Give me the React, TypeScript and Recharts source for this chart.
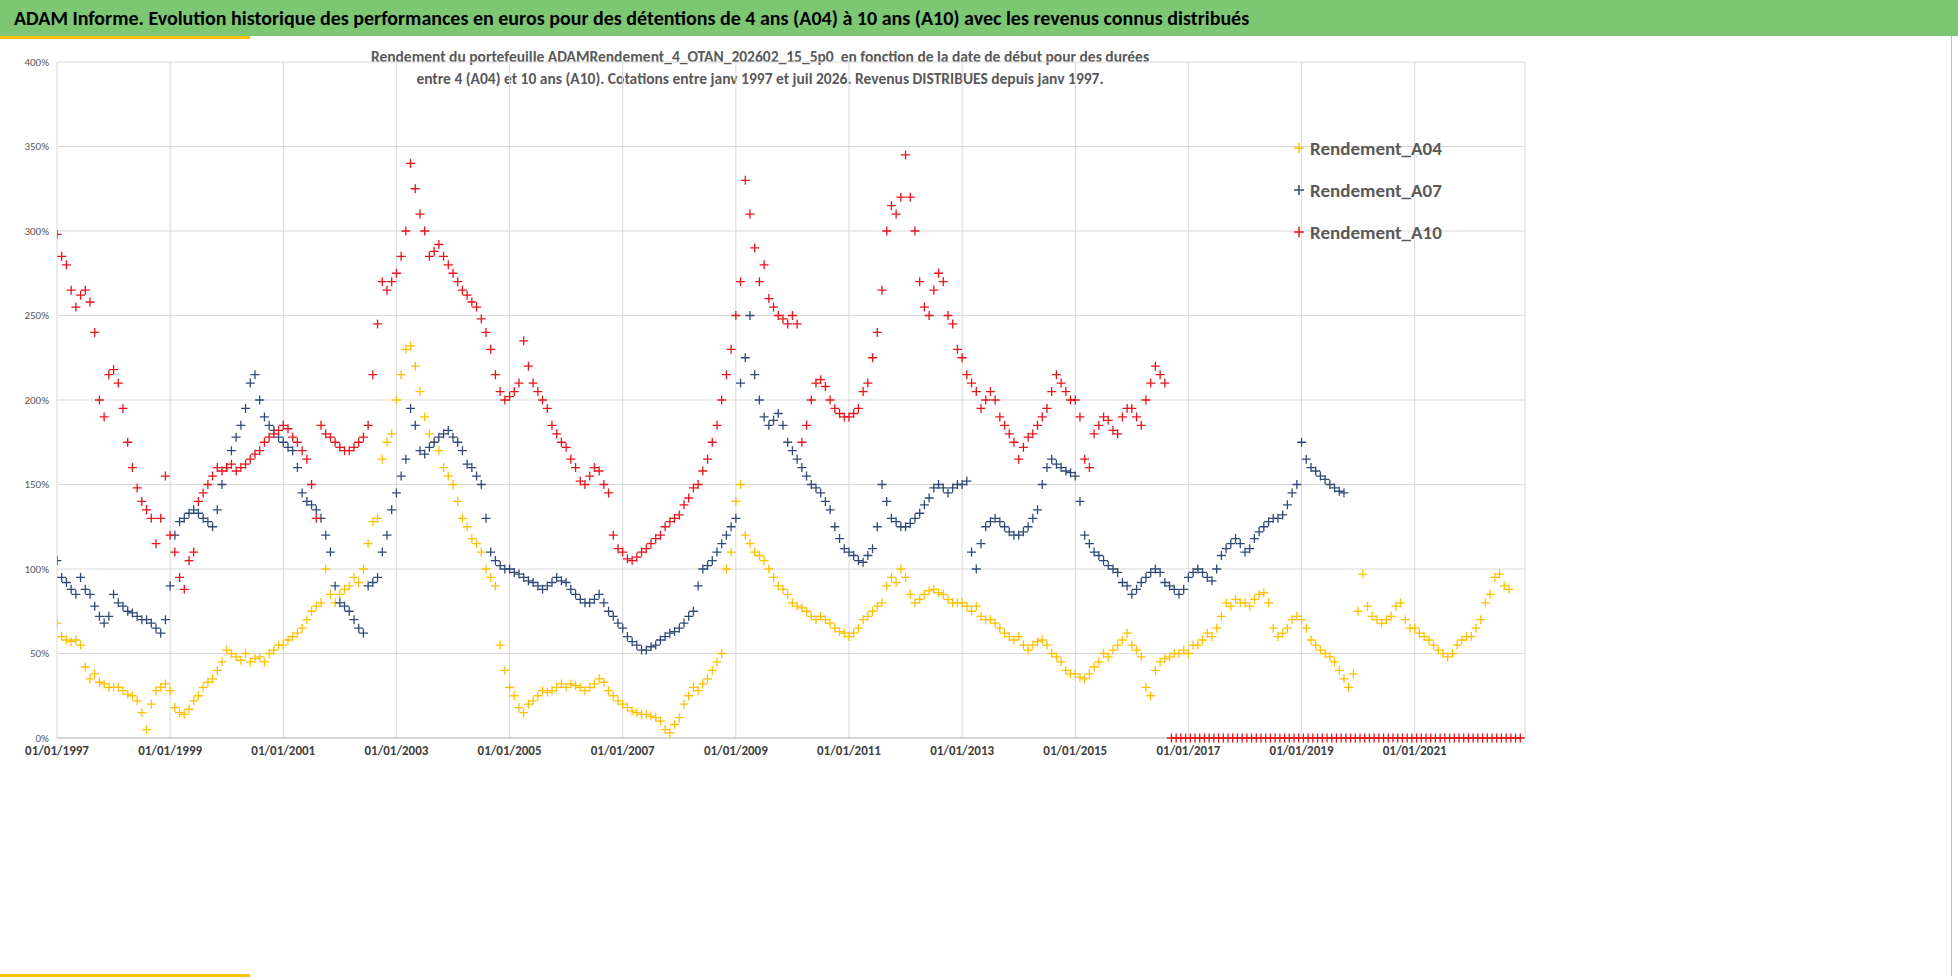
import React from "react";
import { ScatterChart, Scatter, XAxis, YAxis, CartesianGrid } from "recharts";

const xTicks = [1997, 1999, 2001, 2003, 2005, 2007, 2009, 2011, 2013, 2015, 2017, 2019, 2021];
const yTicks = [0, 50, 100, 150, 200, 250, 300, 350, 400];

const a04Start = 1997;
const a04Values = [
  68,60,58,57,58,55,42,35,38,33,32,30,
  30,30,28,26,25,22,15,5,20,28,30,32,
  28,18,15,14,17,22,25,30,33,35,40,45,
  52,50,48,46,50,45,47,48,45,50,52,55,
  55,58,60,62,65,70,75,78,80,100,85,80,
  85,88,90,95,92,100,115,128,130,165,175,180,
  200,215,230,232,220,205,190,180,175,170,160,155,
  150,140,130,125,118,115,110,100,95,90,55,40,
  30,25,18,15,20,22,25,28,27,28,30,32,
  30,32,31,30,28,30,32,35,33,28,25,22,
  20,18,16,15,14,14,13,12,10,5,3,8,
  12,20,25,30,28,32,35,40,45,50,100,110,
  140,150,120,115,110,108,105,100,95,90,88,85,
  80,78,77,75,72,70,72,70,68,65,63,62,
  60,62,65,70,72,75,78,80,90,95,92,100,
  95,85,80,82,85,87,88,86,85,82,80,80,
  80,78,75,78,72,70,70,68,65,62,60,58,
  60,55,52,55,57,58,55,50,48,45,40,38,
  38,36,35,38,42,45,50,48,52,55,58,62,
  55,52,48,30,25,40,45,47,48,50,50,52,
  50,55,55,58,62,60,65,72,80,78,82,80,
  80,78,82,85,86,80,65,60,62,65,70,72,
  70,65,58,55,52,50,48,45,40,35,30,38,
  75,97,78,72,70,68,70,72,78,80,70,65,
  65,62,60,58,55,52,50,48,50,55,58,60,
  60,65,70,80,85,95,97,90,88,
];

const a07Start = 1997;
const a07Values = [
  105,95,92,88,85,95,88,85,78,72,68,72,
  85,80,78,75,74,72,70,70,68,65,62,70,
  90,120,128,130,133,135,133,130,128,125,135,150,
  160,170,178,185,195,210,215,200,190,185,182,178,
  175,172,170,160,145,140,138,135,130,120,110,90,
  80,78,75,70,65,62,90,92,95,110,120,135,
  145,155,165,195,185,170,168,172,175,178,180,182,
  178,175,170,162,160,155,150,130,110,105,102,100,
  100,98,97,95,93,92,90,88,90,92,95,93,
  92,88,85,82,80,80,82,85,80,75,72,68,
  65,60,57,55,52,52,54,55,58,60,62,63,
  65,68,72,75,90,100,102,105,110,115,120,125,
  130,210,225,250,215,200,190,185,188,192,185,175,
  170,165,160,155,150,148,145,140,135,125,118,112,
  110,108,105,104,108,112,125,150,140,130,128,125,
  125,127,130,133,138,142,148,150,148,145,148,150,
  150,152,110,100,115,125,128,130,128,125,122,120,
  120,122,125,130,135,150,160,165,162,160,158,157,
  155,140,120,115,110,108,105,102,100,98,92,90,
  85,88,92,95,98,100,98,92,90,88,85,88,
  95,98,100,98,95,93,100,108,112,115,118,115,
  110,112,118,122,125,128,130,130,132,138,145,150,
  175,165,160,158,155,153,150,148,146,145,
];

const a10Start = 1997;
const a10Values = [
  298,285,280,265,255,262,265,258,240,200,190,215,
  218,210,195,175,160,148,140,135,130,115,130,155,
  120,110,95,88,105,110,140,145,150,155,160,158,
  160,162,158,160,162,165,168,170,175,178,180,182,
  185,183,178,175,170,165,150,130,185,180,178,175,
  172,170,170,172,175,178,185,215,245,270,265,270,
  275,285,300,340,325,310,300,285,288,292,285,280,
  275,270,265,262,258,255,248,240,230,215,205,200,
  202,205,210,235,220,210,205,200,195,185,180,175,
  172,165,160,152,150,155,160,158,150,145,120,112,
  110,106,105,107,110,112,115,118,120,125,128,130,
  132,138,142,148,150,158,165,175,185,200,215,230,
  250,270,330,310,290,270,280,260,255,250,248,245,
  250,245,175,185,200,210,212,208,200,195,192,190,
  190,192,195,205,210,225,240,265,300,315,310,320,
  345,320,300,270,255,250,265,275,270,250,245,230,
  225,215,210,205,195,200,205,200,190,185,180,175,
  165,172,178,180,185,190,195,205,215,210,205,200,
  200,190,165,160,180,185,190,188,182,180,190,195,
  195,190,185,200,210,220,215,210,
];

const zeroStart = 2016.7;
const zeroValues = [
  0,0,0,0,0,0,0,0,0,0,0,0,0,0,0,0,0,0,0,0,0,0,0,0,0,
  0,0,0,0,0,0,0,0,0,0,0,0,0,0,0,0,0,0,0,0,0,0,0,0,0,
  0,0,0,0,0,0,0,0,0,0,0,0,0,0,0,0,0,0,0,0,0,0,0,0,0,
];

const toPoints = (start: number, vals: number[]) =>
  vals.map((v, i) => ({ x: start + i / 12, y: v }));

const COLORS = { a04: "#FFC000", a07: "#2F4A7A", a10: "#E8141C" };

const Plus = (props: any) => {
  const { cx, cy, fill } = props;
  if (cx == null || cy == null) return null;
  const s = 4.5;
  return (
    <path
      d={`M${cx - s},${cy}H${cx + s}M${cx},${cy - s}V${cy + s}`}
      stroke={fill}
      strokeWidth={1.3}
      fill="none"
    />
  );
};

const legendItems = [
  { name: "Rendement_A04", color: COLORS.a04, y: 148 },
  { name: "Rendement_A07", color: COLORS.a07, y: 190 },
  { name: "Rendement_A10", color: COLORS.a10, y: 232 },
];

export default function App() {
  return (
    <div style={{ position: "absolute", left: 0, top: 0, width: 1958, height: 979, background: "#fff", fontFamily: "Calibri, Carlito, 'Liberation Sans', Arial, sans-serif", overflow: "hidden" }}>
      <div style={{ position: "absolute", left: 0, top: 0, width: 1958, height: 36, background: "#7DC673", color: "#000", fontWeight: "bold", fontSize: 20, lineHeight: "36px", paddingLeft: 14, boxSizing: "border-box" }}>
        ADAM Informe. Evolution historique des performances en euros pour des détentions de 4 ans (A04) à 10 ans (A10) avec les revenus connus distribués
      </div>
      <div style={{ position: "absolute", left: 0, top: 36, width: 250, height: 3, background: "#FFC000" }} />
      <div style={{ position: "absolute", left: 0, top: 974, width: 250, height: 3, background: "#FFC000" }} />
      <div style={{ position: "absolute", left: 1951, top: 36, width: 1, height: 940, background: "#bbb" }} />
      <div style={{ position: "absolute", left: 200, top: 46, width: 1120, textAlign: "center", color: "#595959", fontWeight: "bold", fontSize: 15.5, lineHeight: "22px" }}>
        Rendement du portefeuille ADAMRendement_4_OTAN_202602_15_5p0&nbsp; en fonction de la date de début pour des durées<br />
        entre 4 (A04) et 10 ans (A10). Cotations entre janv 1997 et juil 2026. Revenus DISTRIBUES depuis janv 1997.
      </div>
      <div style={{ position: "absolute", left: 0, top: 0 }}>
        <ScatterChart width={1958} height={979} margin={{ top: 62, right: 433, bottom: 211, left: 0 }}>
          <CartesianGrid stroke="#d9d9d9" strokeWidth={1} />
          <XAxis
            type="number"
            dataKey="x"
            domain={[1997, 2022.95]}
            ticks={xTicks}
            tickFormatter={(v: number) => `01/01/${v}`}
            height={30}
            axisLine={{ stroke: "#bfbfbf" }}
            tickLine={false}
            tick={{ fill: "#404040", fontSize: 13, fontWeight: "bold" }}
            allowDataOverflow
          />
          <YAxis
            type="number"
            dataKey="y"
            domain={[0, 400]}
            ticks={yTicks}
            tickFormatter={(v: number) => `${v}%`}
            width={57}
            axisLine={false}
            tickLine={false}
            tick={{ fill: "#595959", fontSize: 11 }}
          />
          <Scatter data={toPoints(a04Start, a04Values)} fill={COLORS.a04} shape={Plus} isAnimationActive={false} />
          <Scatter data={toPoints(a07Start, a07Values)} fill={COLORS.a07} shape={Plus} isAnimationActive={false} />
          <Scatter data={toPoints(a10Start, a10Values)} fill={COLORS.a10} shape={Plus} isAnimationActive={false} />
          <Scatter data={toPoints(zeroStart, zeroValues)} fill={COLORS.a10} shape={Plus} isAnimationActive={false} />
        </ScatterChart>
      </div>
      {legendItems.map((it) => (
        <div key={it.name} style={{ position: "absolute", left: 1292, top: it.y - 12, height: 24, display: "flex", alignItems: "center" }}>
          <svg width={14} height={14} style={{ marginRight: 4 }}>
            <path d="M2,7H12M7,2V12" stroke={it.color} strokeWidth={1.5} />
          </svg>
          <span style={{ color: "#595959", fontWeight: "bold", fontSize: 19 }}>{it.name}</span>
        </div>
      ))}
    </div>
  );
}
